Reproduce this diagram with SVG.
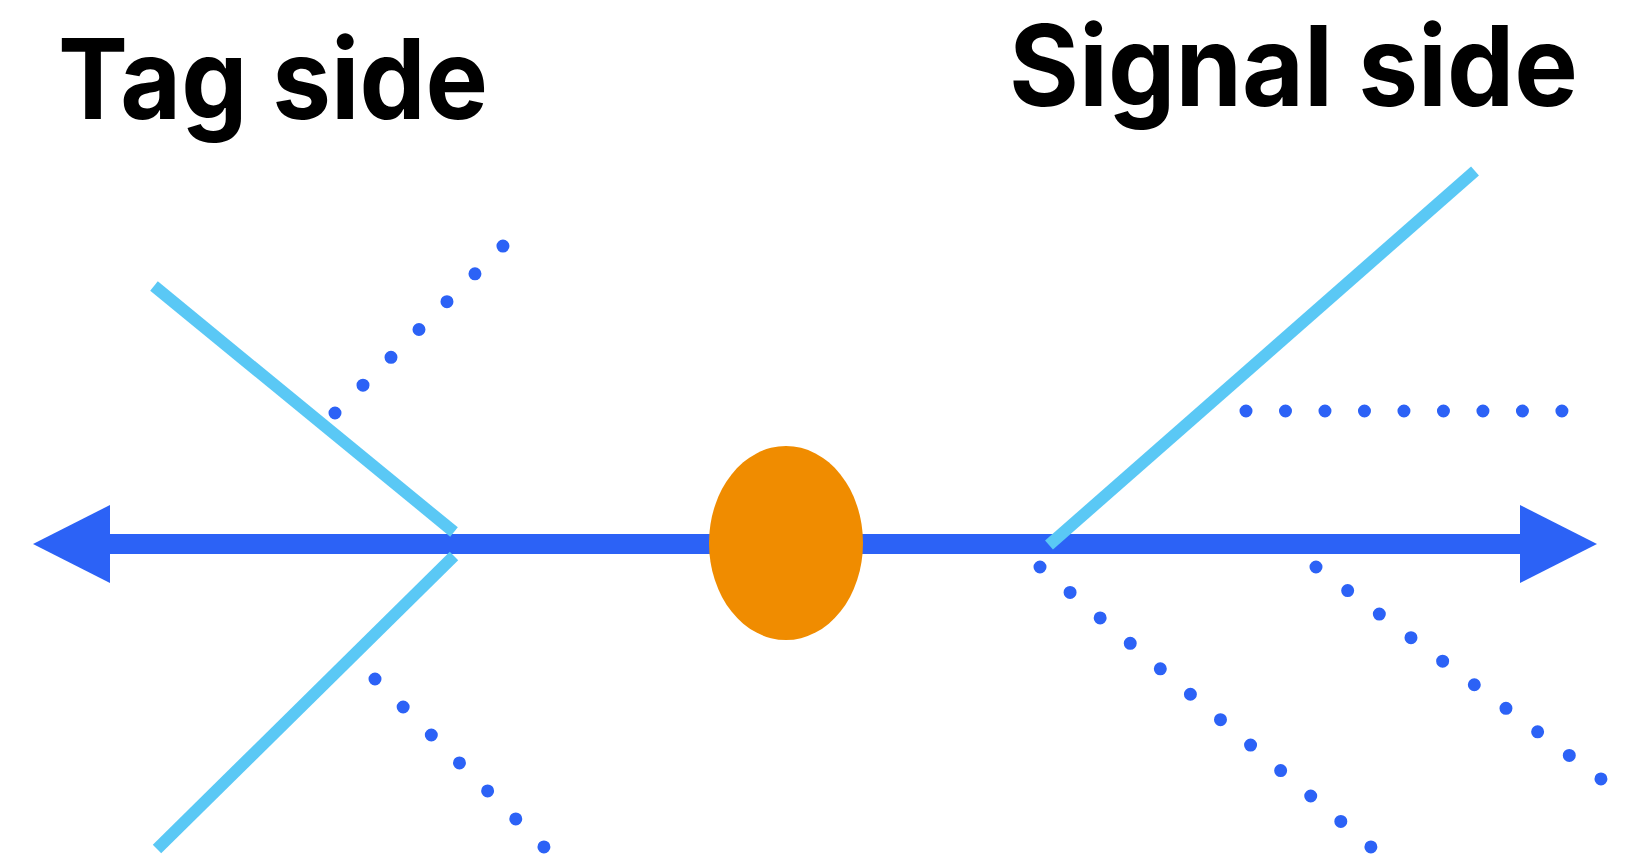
<svg xmlns="http://www.w3.org/2000/svg" width="1644" height="860" viewBox="0 0 1644 860">
<style>
.label{font-family:Inter,"Liberation Sans",Arial,sans-serif;font-weight:700;font-size:112px;fill:#000}
.axis{stroke:#2C62F6;stroke-width:20;fill:none}
.head{fill:#2C62F6}
.ray{stroke:#5AC8F5;stroke-width:12;fill:none}
.dots{stroke:#2C62F6;stroke-width:13;stroke-linecap:round;fill:none}
</style>
<rect width="1644" height="860" fill="#fff"/>
<g id="label-tag"><text class="label" x="58" y="119" textLength="430" lengthAdjust="spacingAndGlyphs">Tag side</text></g>
<g id="label-signal"><text class="label" x="1009" y="106" textLength="569" lengthAdjust="spacingAndGlyphs">Signal side</text></g>
<g id="connectors">
<line class="axis" x1="105" y1="544" x2="1525" y2="544"/>
<polygon class="head" points="33,544 110,505 110,583"/>
<polygon class="head" points="1597,544 1520,505 1520,583"/>
<line class="ray" x1="154" y1="286" x2="454" y2="532"/>
<line class="ray" x1="454" y1="556" x2="157" y2="849"/>
<line class="ray" x1="1049" y1="545" x2="1475" y2="171"/>
<path class="dots" d="M335,413 L503,246" stroke-dasharray="0 39.47"/>
<path class="dots" d="M375,679 L544,847" stroke-dasharray="0 39.70"/>
<path class="dots" d="M1246,411 L1562,411" stroke-dasharray="0 39.49"/>
<path class="dots" d="M1040,567 L1371,847" stroke-dasharray="0 39.40"/>
<path class="dots" d="M1316,567 L1601,779" stroke-dasharray="0 39.46"/>
</g>
<g id="tag"><ellipse cx="786" cy="543" rx="77" ry="97" fill="#F08C00"/></g>
</svg>
